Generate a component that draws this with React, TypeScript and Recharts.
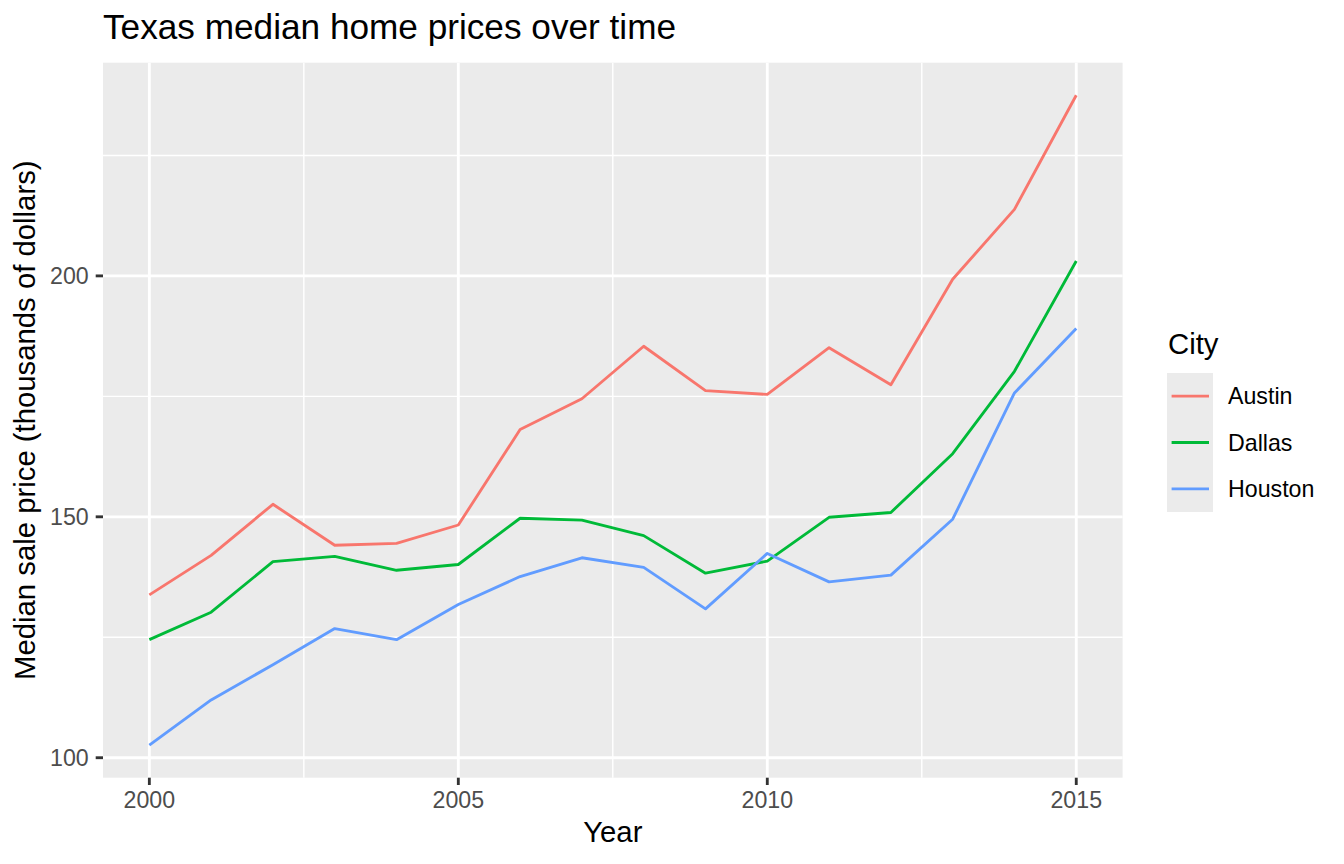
import { LineChart, Line, XAxis, YAxis, CartesianGrid, Legend } from 'recharts'

const years = [2000, 2001, 2002, 2003, 2004, 2005, 2006, 2007, 2008, 2009, 2010, 2011, 2012, 2013, 2014, 2015]
const austin = [133.8, 142.0, 152.6, 144.1, 144.5, 148.3, 168.1, 174.5, 185.4, 176.2, 175.4, 185.1, 177.4, 199.3, 213.8, 237.5]
const dallas = [124.5, 130.2, 140.7, 141.8, 138.9, 140.1, 149.7, 149.3, 146.1, 138.3, 140.8, 149.9, 150.9, 163.1, 180.2, 203.1]
const houston = [102.6, 112.0, 119.3, 126.8, 124.5, 131.8, 137.6, 141.5, 139.5, 130.9, 142.4, 136.5, 137.9, 149.5, 175.7, 189.1]

const xTicks = [2000, 2005, 2010, 2015]
const xMinor = [2002.5, 2007.5, 2012.5]
const yTicks = [100, 150, 200]
const yMinor = [125, 175, 225]

const cities = [
  { key: 'Austin', color: '#F8766D' },
  { key: 'Dallas', color: '#00BA38' },
  { key: 'Houston', color: '#619CFF' },
]

const data = years.map((year, i) => ({ year, Austin: austin[i], Dallas: dallas[i], Houston: houston[i] }))

// ggplot-style 5% expansion of the data range
const expand = (vals: number[]) => {
  const lo = Math.min(...vals)
  const hi = Math.max(...vals)
  const pad = (hi - lo) * 0.05
  return [lo - pad, hi + pad]
}
const xDomain = expand(years)
const yDomain = expand([...austin, ...dallas, ...houston])

const FONT = '"Liberation Sans", Arial, Helvetica, sans-serif'
const tickStyle = { fontSize: 23.2, fill: '#4D4D4D', fontFamily: FONT }
const tickLine = { stroke: '#333333', strokeWidth: 2.85 }

function CityLegend({ payload }: any) {
  return (
    <svg width={194} height={200} style={{ fontFamily: FONT }}>
      <text x={18} y={34.3} fontSize={29.3} fill="#000">City</text>
      <rect x={17} y={53} width={46} height={139} fill="#EBEBEB" />
      {(payload || []).map((p: any, i: number) => {
        const cy = 53 + 46.33 * (i + 0.5)
        return (
          <g key={p.value}>
            <line x1={21.6} x2={59} y1={cy} y2={cy} stroke={p.color} strokeWidth={2.85} />
            <text x={78} y={cy} dy="0.35em" fontSize={23.2} fill="#000">{p.value}</text>
          </g>
        )
      })}
    </svg>
  )
}

export default function App() {
  return (
    <div style={{ position: 'absolute', left: 0, top: 0, width: 1344, height: 864, background: '#fff', fontFamily: FONT }}>
      <LineChart width={1344} height={864} data={data} margin={{ top: 62.7, right: 221.4, left: 0, bottom: 0 }}>
        <CartesianGrid fill="#EBEBEB" stroke="#FFFFFF" strokeWidth={1.42}
          horizontalValues={yMinor} verticalValues={xMinor} />
        <CartesianGrid stroke="#FFFFFF" strokeWidth={2.85}
          horizontalValues={yTicks} verticalValues={xTicks} />
        <XAxis dataKey="year" type="number" domain={xDomain} allowDataOverflow ticks={xTicks}
          height={86.3} axisLine={false} tickSize={7.3} tickMargin={6.5} tickLine={tickLine} tick={tickStyle} />
        <YAxis type="number" domain={yDomain} allowDataOverflow ticks={yTicks}
          width={103} axisLine={false} tickSize={7.3} tickMargin={7} tickLine={tickLine} tick={tickStyle} />
        {cities.map(c => (
          <Line key={c.key} type="linear" dataKey={c.key} name={c.key} stroke={c.color} strokeWidth={2.85}
            strokeLinejoin="round" dot={false} activeDot={false} isAnimationActive={false} />
        ))}
        <Legend layout="vertical" align="center" verticalAlign="middle" content={<CityLegend />}
          wrapperStyle={{ position: 'absolute', left: 1150, top: 320, width: 194, height: 200 }} />
        <text x={103} y={39.3} fontSize={35.2} fill="#000" fontFamily={FONT}>Texas median home prices over time</text>
        <text x={612.8} y={841.7} fontSize={29.3} fill="#000" textAnchor="middle" fontFamily={FONT}>Year</text>
        <text x={35} y={420.2} fontSize={29.3} fill="#000" textAnchor="middle" fontFamily={FONT}
          transform="rotate(-90 35 420.2)">Median sale price (thousands of dollars)</text>
      </LineChart>
    </div>
  )
}
